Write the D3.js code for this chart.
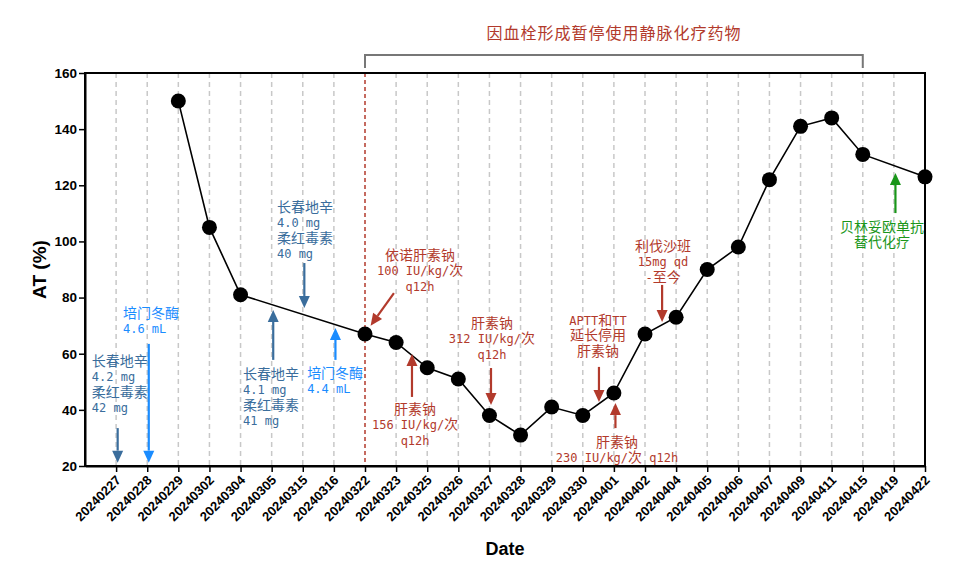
<!DOCTYPE html>
<html><head><meta charset="utf-8">
<script src="https://cdn.jsdelivr.net/npm/d3@7/dist/d3.min.js"></script>
<style>
body{margin:0;background:#fff;}
svg{display:block;}
</style>
</head><body>
<svg id="chart" width="960" height="584"></svg>
<script>
// ---------- data ----------
const dates = ["20240227","20240228","20240229","20240302","20240304","20240305","20240315","20240316","20240322","20240323","20240325","20240326","20240327","20240328","20240329","20240330","20240401","20240402","20240404","20240405","20240406","20240407","20240409","20240411","20240415","20240419","20240422"];
const atValues = [null,null,150,105,81,null,null,null,67,64,55,51,38,31,41,38,46,67,73,90,98,122,141,144,131,null,123];
const yTicks = [20,40,60,80,100,120,140,160];
const titleText = "因血栓形成暂停使用静脉化疗药物";
const bracketRange = ["20240322","20240415"];
const stopDate = "20240322";

const annoText = [
  ["长春地辛","4.2 mg","柔红毒素","42 mg"],
  ["培门冬酶","4.6 mL"],
  ["长春地辛","4.0 mg","柔红毒素","40 mg"],
  ["长春地辛","4.1 mg","柔红毒素","41 mg"],
  ["培门冬酶","4.4 mL"],
  ["依诺肝素钠","100 IU/kg/次","q12h"],
  ["肝素钠","156 IU/kg/次","q12h"],
  ["肝素钠","312 IU/kg/次","q12h"],
  ["APTT和TT","延长停用","肝素钠"],
  ["肝素钠","230 IU/kg/次 q12h"],
  ["利伐沙班","15mg qd","-至今"],
  ["贝林妥欧单抗","替代化疗"]
];

// ---------- layout (index / value units) ----------
const C = {steel:"#3a6d9c", blue:"#1a8cff", red:"#b23a2c", green:"#1a961a"};
const annoLayout = [
  {c:"steel", tx:-0.78, ty:57.4, a:"start", ar:[0.05,33.5,0.05,21.2]},
  {c:"blue",  tx:0.22,  ty:74.5, a:"start", ar:[1.05,63.5,1.05,21.2]},
  {c:"steel", tx:5.17,  ty:112.3,a:"start", ar:[6.05,92.3,6.05,76.3]},
  {c:"steel", tx:4.08,  ty:52.8, a:"start", ar:[5.05,57.8,5.05,75.6]},
  {c:"blue",  tx:6.14,  ty:53.1, a:"start", ar:[7.05,57.8,7.05,69.2]},
  {c:"red",   tx:9.77,  ty:95.2, a:"middle",ar:[8.93,81.6,8.18,70.0]},
  {c:"red",   tx:9.61,  ty:40.3, a:"middle",ar:[9.51,44.6,9.51,59.9]},
  {c:"red",   tx:12.08, ty:70.9, a:"middle",ar:[12.05,54.9,12.05,41.7]},
  {c:"red",   tx:15.49, ty:72.0, a:"middle",ar:[15.52,55.3,15.52,42.8]},
  {c:"red",   tx:16.10, ty:28.5, a:"middle",ar:[16.05,33.5,16.05,42.4]},
  {c:"red",   tx:17.58, ty:98.4, a:"middle",ar:[17.55,84.5,17.55,71.3]},
  {c:"green", tx:24.62, ty:105.1,a:"middle",ar:[25.05,110.1,25.05,124.4]}
];

// ---------- chart ----------
const svg = d3.select("#chart");
const L = 85, R = 925, T = 73, B = 466;
const x = d3.scaleLinear().domain([-1, dates.length-1]).range([L, R]);
const xd = d => x(dates.indexOf(d));
const y = d3.scaleLinear().domain([20,160]).range([B, T]);
const sansB = "'Liberation Sans', Arial, sans-serif";

// grid lines
svg.append("g").selectAll("line").data(dates.filter(d => d !== stopDate && d !== dates[dates.length-1]))
  .join("line")
  .attr("x1", d => xd(d)).attr("x2", d => xd(d))
  .attr("y1", T).attr("y2", B)
  .attr("stroke", "#c8c8c8").attr("stroke-width", 1.5).attr("stroke-dasharray", "5,4");

// stop line
svg.append("line")
  .attr("x1", xd(stopDate)).attr("x2", xd(stopDate)).attr("y1", T).attr("y2", B)
  .attr("stroke", C.red).attr("stroke-width", 1.5).attr("stroke-dasharray", "4,3");

// frame
svg.append("rect").attr("x", L).attr("y", T).attr("width", R-L).attr("height", B-T)
  .attr("fill", "none").attr("stroke", "#000").attr("stroke-width", 2);

// axes
const xAxis = d3.axisBottom(x).tickValues(d3.range(dates.length)).tickFormat(i => dates[i]).tickSize(6).tickSizeOuter(0);
const gx = svg.append("g").attr("transform", `translate(0,${B})`).call(xAxis);
gx.select(".domain").attr("stroke-width", 2);
gx.selectAll(".tick line").attr("stroke-width", 1.5);
gx.selectAll(".tick text")
  .attr("font-family", sansB).attr("font-weight", "bold").attr("font-size", 13).attr("fill", "#000")
  .attr("text-anchor", "end").attr("dy", null).attr("y", 0)
  .attr("transform", "translate(5,15) rotate(-45)");

const yAxis = d3.axisLeft(y).tickValues(yTicks).tickSize(6).tickSizeOuter(0);
const gy = svg.append("g").attr("transform", `translate(${L},0)`).call(yAxis);
gy.select(".domain").attr("stroke-width", 2);
gy.selectAll(".tick line").attr("stroke-width", 1.5);
gy.selectAll(".tick text").attr("font-family", sansB).attr("font-weight", "bold").attr("font-size", 13.5).attr("fill", "#000").attr("x", -8);

svg.append("text").attr("x", 505).attr("y", 555).attr("text-anchor", "middle")
  .attr("font-family", sansB).attr("font-weight", "bold").attr("font-size", 18).text("Date");
svg.append("text").attr("transform", `translate(46,${(T+B)/2}) rotate(-90)`).attr("text-anchor", "middle")
  .attr("font-family", sansB).attr("font-weight", "bold").attr("font-size", 19).text("AT (%)");

// line + points
const pts = dates.map((d,i) => ({d, v: atValues[i]})).filter(p => p.v != null);
svg.append("path").datum(pts)
  .attr("d", d3.line().x(p => xd(p.d)).y(p => y(p.v)))
  .attr("fill", "none").attr("stroke", "#000").attr("stroke-width", 1.6);
svg.append("g").selectAll("circle").data(pts).join("circle")
  .attr("cx", p => xd(p.d)).attr("cy", p => y(p.v)).attr("r", 7.5).attr("fill", "#000");

// bracket + title
const bx1 = xd(bracketRange[0]), bx2 = xd(bracketRange[1]);
svg.append("path").attr("d", `M${bx1},68V55H${bx2}V68`).attr("fill", "none").attr("stroke", "#777").attr("stroke-width", 2);
svg.append("text").attr("x", (bx1+bx2)/2).attr("y", 39).attr("text-anchor", "middle")
  .attr("font-family", "'Noto Sans CJK SC', sans-serif").attr("font-size", 16).attr("letter-spacing", 1)
  .attr("fill", C.red).text(titleText);

// annotations
function addRuns(sel, str){
  const runs = str.match(/[\u3000-\u9fff\uff00-\uffef]+|[^\u3000-\u9fff\uff00-\uffef]+/g) || [];
  runs.forEach(r => {
    const cjk = /[\u3000-\u9fff]/.test(r);
    sel.append("tspan")
      .attr("font-family", cjk ? "'Noto Sans CJK SC', sans-serif" : "'DejaVu Sans Mono', monospace")
      .attr("font-size", cjk ? 14 : 12)
      .text(r);
  });
}
annoText.forEach((lines, k) => {
  const lay = annoLayout[k];
  const col = C[lay.c];
  const g = svg.append("g");
  const tx = x(lay.tx);
  const t = g.append("text").attr("x", tx).attr("y", y(lay.ty) + 5)
    .attr("text-anchor", lay.a).attr("fill", col).attr("xml:space", "preserve").style("white-space", "pre");
  lines.forEach((ln, j) => {
    const line = t.append("tspan").attr("x", tx).attr("dy", j === 0 ? 0 : 15.3);
    addRuns(line, ln);
  });
  const [ax1, av1, ax2, av2] = lay.ar;
  const X1 = x(ax1), Y1 = y(av1), X2 = x(ax2), Y2 = y(av2);
  const ang = Math.atan2(Y2 - Y1, X2 - X1);
  const hl = 12, hw = 5.5;
  const bxp = X2 - hl*Math.cos(ang), byp = Y2 - hl*Math.sin(ang);
  g.append("line").attr("x1", X1).attr("y1", Y1).attr("x2", bxp).attr("y2", byp)
    .attr("stroke", col).attr("stroke-width", 2.2);
  const px = -Math.sin(ang), py = Math.cos(ang);
  g.append("path").attr("d", `M${X2},${Y2}L${bxp+hw*px},${byp+hw*py}L${bxp-hw*px},${byp-hw*py}Z`).attr("fill", col);
});
</script>
</body></html>
